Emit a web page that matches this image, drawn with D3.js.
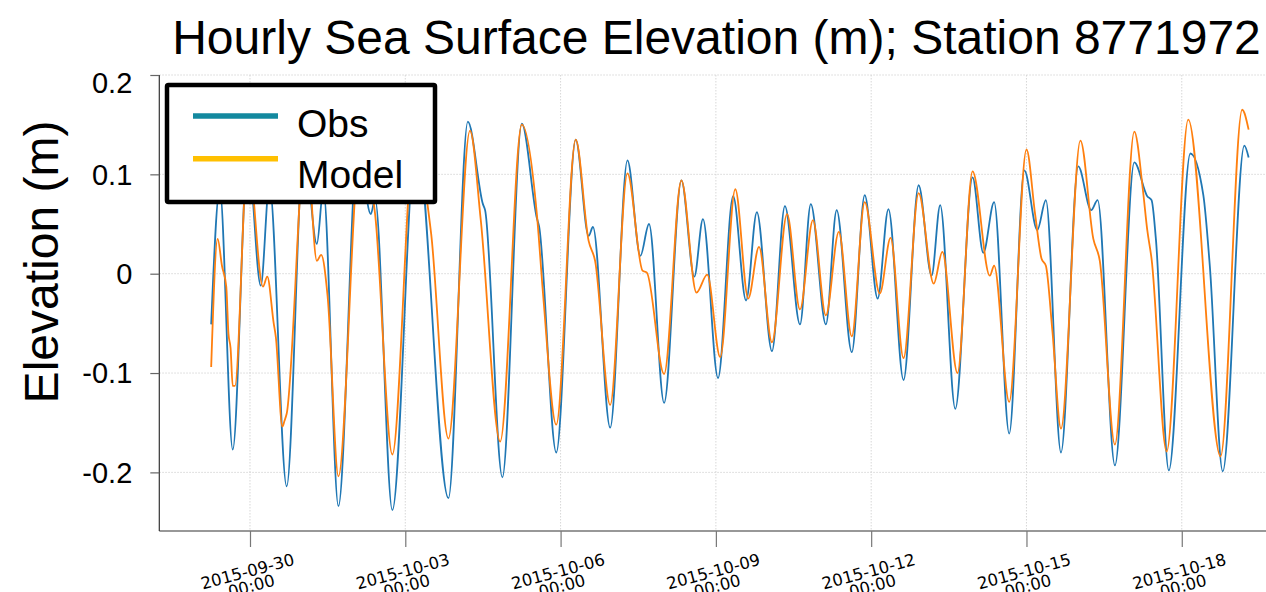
<!DOCTYPE html>
<html>
<head>
<meta charset="utf-8">
<script src="https://cdn.jsdelivr.net/npm/d3@7"></script>
<style>
  html, body { margin: 0; padding: 0; background: #fff; }
  #chart { width: 1266px; height: 592px; overflow: hidden; }
</style>
</head>
<body>
<div id="chart"></div>
<script>
// station 8771972, hourly elevation (m) -- turning points
var obsPoints = [
  ["2015-09-29 06:00", -0.051], ["2015-09-29 10:00", 0.085], ["2015-09-29 16:00", -0.177],
  ["2015-09-29 23:00", 0.120], ["2015-09-30 05:00", -0.012], ["2015-09-30 09:00", 0.090],
  ["2015-09-30 17:00", -0.214], ["2015-10-01 01:00", 0.130], ["2015-10-01 07:00", 0.030],
  ["2015-10-01 10:00", 0.085], ["2015-10-01 17:00", -0.234], ["2015-10-02 02:00", 0.130],
  ["2015-10-02 08:00", 0.060], ["2015-10-02 10:00", 0.075], ["2015-10-02 18:00", -0.238],
  ["2015-10-03 05:00", 0.140], ["2015-10-03 20:00", -0.226], ["2015-10-04 05:00", 0.153],
  ["2015-10-04 12:00", 0.070], ["2015-10-04 13:00", 0.064], ["2015-10-04 21:00", -0.205],
  ["2015-10-05 06:00", 0.151], ["2015-10-05 13:00", 0.056], ["2015-10-05 14:00", 0.048],
  ["2015-10-05 22:00", -0.180], ["2015-10-06 07:00", 0.135], ["2015-10-06 13:00", 0.038],
  ["2015-10-06 15:00", 0.047], ["2015-10-06 23:00", -0.155], ["2015-10-07 07:00", 0.114],
  ["2015-10-07 13:00", 0.018], ["2015-10-07 17:00", 0.050], ["2015-10-08 00:00", -0.130],
  ["2015-10-08 08:00", 0.094], ["2015-10-08 14:00", -0.003], ["2015-10-08 18:00", 0.055],
  ["2015-10-09 01:00", -0.105], ["2015-10-09 08:00", 0.078], ["2015-10-09 14:00", -0.027],
  ["2015-10-09 19:00", 0.062], ["2015-10-10 02:00", -0.078], ["2015-10-10 08:00", 0.068],
  ["2015-10-10 15:00", -0.051], ["2015-10-10 20:00", 0.070], ["2015-10-11 03:00", -0.051],
  ["2015-10-11 08:00", 0.064], ["2015-10-11 15:00", -0.079], ["2015-10-11 21:00", 0.079],
  ["2015-10-12 03:00", -0.025], ["2015-10-12 08:00", 0.065], ["2015-10-12 15:00", -0.107],
  ["2015-10-12 22:00", 0.089], ["2015-10-13 04:00", -0.002], ["2015-10-13 08:00", 0.069],
  ["2015-10-13 15:00", -0.136], ["2015-10-13 23:00", 0.097], ["2015-10-14 04:00", 0.021],
  ["2015-10-14 09:00", 0.072], ["2015-10-14 16:00", -0.161], ["2015-10-14 23:00", 0.104],
  ["2015-10-15 05:00", 0.044], ["2015-10-15 09:00", 0.074], ["2015-10-15 16:00", -0.180],
  ["2015-10-16 00:00", 0.108], ["2015-10-16 06:00", 0.064], ["2015-10-16 09:00", 0.074],
  ["2015-10-16 17:00", -0.193], ["2015-10-17 02:00", 0.112], ["2015-10-17 08:00", 0.078],
  ["2015-10-17 10:00", 0.074], ["2015-10-17 12:00", 0.035], ["2015-10-17 18:00", -0.198],
  ["2015-10-18 04:00", 0.121], ["2015-10-18 10:00", 0.079], ["2015-10-18 13:00", 0.008],
  ["2015-10-18 19:00", -0.199], ["2015-10-19 05:00", 0.129], ["2015-10-19 07:00", 0.117]
];

var modelPoints = [
  ["2015-09-29 06:00", -0.094], ["2015-09-29 09:00", 0.035], ["2015-09-29 11:00", 0.008],
  ["2015-09-29 13:00", -0.013], ["2015-09-29 14:00", -0.060], ["2015-09-29 15:00", -0.075],
  ["2015-09-29 16:00", -0.113], ["2015-09-29 17:00", -0.113], ["2015-09-29 23:00", 0.120],
  ["2015-09-30 06:00", -0.013], ["2015-09-30 08:00", -0.003], ["2015-09-30 11:00", -0.050],
  ["2015-09-30 12:00", -0.064], ["2015-09-30 15:00", -0.154], ["2015-09-30 16:00", -0.148],
  ["2015-09-30 17:00", -0.141], ["2015-10-01 02:00", 0.140], ["2015-10-01 07:00", 0.013],
  ["2015-10-01 09:00", 0.019], ["2015-10-01 12:00", -0.023], ["2015-10-01 17:00", -0.204],
  ["2015-10-02 03:00", 0.125], ["2015-10-02 10:00", 0.060], ["2015-10-02 18:00", -0.182],
  ["2015-10-03 04:00", 0.130], ["2015-10-03 12:00", 0.040], ["2015-10-03 20:00", -0.166],
  ["2015-10-04 06:00", 0.144], ["2015-10-04 11:00", 0.054], ["2015-10-04 20:00", -0.169],
  ["2015-10-05 06:00", 0.150], ["2015-10-05 13:00", 0.060], ["2015-10-05 16:00", -0.024],
  ["2015-10-05 22:00", -0.152], ["2015-10-06 07:00", 0.135], ["2015-10-06 13:00", 0.033],
  ["2015-10-06 16:00", 0.013], ["2015-10-06 23:00", -0.132], ["2015-10-07 07:00", 0.101],
  ["2015-10-07 14:00", 0.003], ["2015-10-07 16:00", 0.001], ["2015-10-08 00:00", -0.101],
  ["2015-10-08 08:00", 0.094], ["2015-10-08 15:00", -0.019], ["2015-10-08 20:00", -0.001],
  ["2015-10-09 02:00", -0.084], ["2015-10-09 09:00", 0.085], ["2015-10-09 15:00", -0.025],
  ["2015-10-09 20:00", 0.027], ["2015-10-10 02:00", -0.069], ["2015-10-10 09:00", 0.060],
  ["2015-10-10 15:00", -0.036], ["2015-10-10 21:00", 0.054], ["2015-10-11 03:00", -0.042],
  ["2015-10-11 09:00", 0.042], ["2015-10-11 15:00", -0.063], ["2015-10-11 21:00", 0.072],
  ["2015-10-12 04:00", -0.020], ["2015-10-12 09:00", 0.036], ["2015-10-12 15:00", -0.085],
  ["2015-10-12 22:00", 0.081], ["2015-10-13 05:00", -0.010], ["2015-10-13 09:00", 0.022],
  ["2015-10-13 16:00", -0.100], ["2015-10-13 23:00", 0.103], ["2015-10-14 07:00", -0.002],
  ["2015-10-14 09:00", 0.008], ["2015-10-14 16:00", -0.129], ["2015-10-15 00:00", 0.125],
  ["2015-10-15 04:00", 0.060], ["2015-10-15 07:00", 0.015], ["2015-10-15 09:00", 0.008],
  ["2015-10-15 12:00", -0.057], ["2015-10-15 16:00", -0.156], ["2015-10-16 01:00", 0.134],
  ["2015-10-16 07:00", 0.035], ["2015-10-16 10:00", 0.013], ["2015-10-16 17:00", -0.172],
  ["2015-10-17 02:00", 0.143], ["2015-10-17 06:00", 0.084], ["2015-10-17 08:00", 0.044],
  ["2015-10-17 10:00", 0.015], ["2015-10-17 17:00", -0.179], ["2015-10-18 03:00", 0.155],
  ["2015-10-18 18:00", -0.184], ["2015-10-19 04:00", 0.165], ["2015-10-19 07:00", 0.145]
];

var yTicks = [-0.2, -0.1, 0, 0.1, 0.2];
var yTickLabels = ["-0.2", "-0.1", "0", "0.1", "0.2"];
var xTicks = ["2015-09-30", "2015-10-03", "2015-10-06", "2015-10-09", "2015-10-12", "2015-10-15", "2015-10-18"];
var seriesNames = ["Obs", "Model"];

function renderChart() {

  var attrs = {
    svgWidth: 1266,
    svgHeight: 592,
    plotLeft: 159.3,
    plotRight: 1300.5,   // axes run past the right edge of the picture
    plotTop: 75,
    plotBottom: 531,
    yMin: -0.259,
    yMax: 0.2,
    lineColors: ["#1f77b4", "#ff7f0e"],
    legendColors: ["#13899f", "#ffc000"],
    sansFont: "'Liberation Sans', Arial, sans-serif",
    tickFont: "'DejaVu Sans', sans-serif",
    title: "Hourly Sea Surface Elevation (m); Station 8771972",
    yLabel: "Elevation (m)"
  };

  var parse = d3.utcParse("%Y-%m-%d %H:%M");
  var parseDay = d3.utcParse("%Y-%m-%d");

  var series = [obsPoints, modelPoints].map(function (pts, i) {
    return {
      name: seriesNames[i],
      values: pts.map(function (p) { return { t: parse(p[0]), v: p[1] }; })
    };
  });

  // matplotlib-like 5% margin around the data time span
  var allT = series[0].values.map(function (d) { return d.t; });
  var t0 = d3.min(allT), t1 = d3.max(allT);
  var pad = (t1 - t0) * 0.05;

  var x = d3.scaleUtc()
    .domain([new Date(+t0 - pad), new Date(+t1 + pad)])
    .range([attrs.plotLeft, attrs.plotRight]);

  var y = d3.scaleLinear()
    .domain([attrs.yMin, attrs.yMax])
    .range([attrs.plotBottom, attrs.plotTop]);

  var svg = d3.select("#chart").append("svg")
    .attr("width", attrs.svgWidth)
    .attr("height", attrs.svgHeight)
    .style("font-family", attrs.sansFont);

  //Gridlines
  var grid = svg.append("g").attr("class", "grid");
  grid.selectAll(".hgrid").data(yTicks).enter().append("line")
    .attr("x1", attrs.plotLeft).attr("x2", attrs.plotRight)
    .attr("y1", function (d) { return y(d); }).attr("y2", function (d) { return y(d); })
    .attr("stroke", "#d2d2d2").attr("stroke-width", 0.9).attr("stroke-dasharray", "1.5,1.5");
  grid.selectAll(".vgrid").data(xTicks).enter().append("line")
    .attr("x1", function (d) { return x(parseDay(d)); }).attr("x2", function (d) { return x(parseDay(d)); })
    .attr("y1", attrs.plotTop).attr("y2", attrs.plotBottom)
    .attr("stroke", "#d2d2d2").attr("stroke-width", 0.9).attr("stroke-dasharray", "1.5,1.5");

  //Lines
  var line = d3.line()
    .x(function (d) { return x(d.t); })
    .y(function (d) { return y(d.v); })
    .curve(d3.curveMonotoneX);

  svg.append("g").attr("class", "lines")
    .selectAll("path").data(series).enter().append("path")
    .attr("d", function (d) { return line(d.values); })
    .attr("fill", "none")
    .attr("stroke", function (d, i) { return attrs.lineColors[i]; })
    .attr("stroke-width", 1.8)
    .attr("stroke-linejoin", "round");

  //Axes
  var yAxis = d3.axisLeft(y)
    .tickValues(yTicks)
    .tickSize(9)
    .tickPadding(18)
    .tickFormat(function (d, i) { return yTickLabels[i]; });

  var gy = svg.append("g")
    .attr("transform", "translate(" + attrs.plotLeft + ",0)")
    .call(yAxis);
  gy.select(".domain").attr("stroke", "#333").attr("stroke-width", 1.2)
    .attr("d", "M0," + attrs.plotTop + "V" + attrs.plotBottom);
  gy.selectAll(".tick line").attr("stroke", "#666").attr("stroke-width", 1.2);
  gy.selectAll(".tick text")
    .attr("font-family", attrs.sansFont)
    .attr("font-size", 29)
    .attr("fill", "#000")
    // top label sits a little below its tick, as in the source figure
    .attr("dy", function (d) { return d === 0.2 ? "1.0em" : "0.34em"; })
    .attr("y", function (d) { return d === 0.2 ? -12 : 0; });

  var xAxis = d3.axisBottom(x)
    .tickValues(xTicks.map(function (d) { return parseDay(d); }))
    .tickSize(16)
    .tickFormat("");

  var gx = svg.append("g")
    .attr("transform", "translate(0," + attrs.plotBottom + ")")
    .call(xAxis);
  gx.select(".domain").attr("stroke", "#333").attr("stroke-width", 1.2)
    .attr("d", "M" + attrs.plotLeft + ",0H" + attrs.plotRight);
  gx.selectAll(".tick line").attr("stroke", "#777").attr("stroke-width", 1.2);

  // slanted two-line date labels
  var xLab = svg.append("g").attr("class", "x-labels")
    .selectAll("g").data(xTicks).enter().append("g")
    .attr("transform", function (d) {
      return "translate(" + (x(parseDay(d)) - 1) + ",577) rotate(-15)";
    })
    .attr("font-family", attrs.tickFont)
    .attr("font-size", 16.5)
    .attr("text-anchor", "middle");
  xLab.append("text").text(function (d) { return d; });
  xLab.append("text").attr("y", 15).text("00:00");

  //Title and axis label
  svg.append("text")
    .attr("x", 716.5).attr("y", 54)
    .attr("text-anchor", "middle")
    .attr("font-size", 48)
    .text(attrs.title);

  svg.append("text")
    .attr("transform", "translate(58,262) rotate(-90)")
    .attr("text-anchor", "middle")
    .attr("font-size", 48)
    .text(attrs.yLabel);

  //Legend
  var legend = svg.append("g").attr("class", "legend");
  legend.append("rect")
    .attr("x", 167).attr("y", 85)
    .attr("width", 268).attr("height", 117)
    .attr("rx", 1.5)
    .attr("fill", "#fff")
    .attr("stroke", "#000")
    .attr("stroke-width", 4.5);

  var item = legend.selectAll(".item").data(seriesNames).enter().append("g");
  item.append("line")
    .attr("x1", 193).attr("x2", 278)
    .attr("y1", function (d, i) { return 116 + i * 42.7; })
    .attr("y2", function (d, i) { return 116 + i * 42.7; })
    .attr("stroke", function (d, i) { return attrs.legendColors[i]; })
    .attr("stroke-width", 5.5);
  item.append("text")
    .attr("x", 297)
    .attr("y", function (d, i) { return 137 + i * 51; })
    .attr("font-size", 39)
    .text(function (d) { return d; });
}

renderChart();
</script>
</body>
</html>
